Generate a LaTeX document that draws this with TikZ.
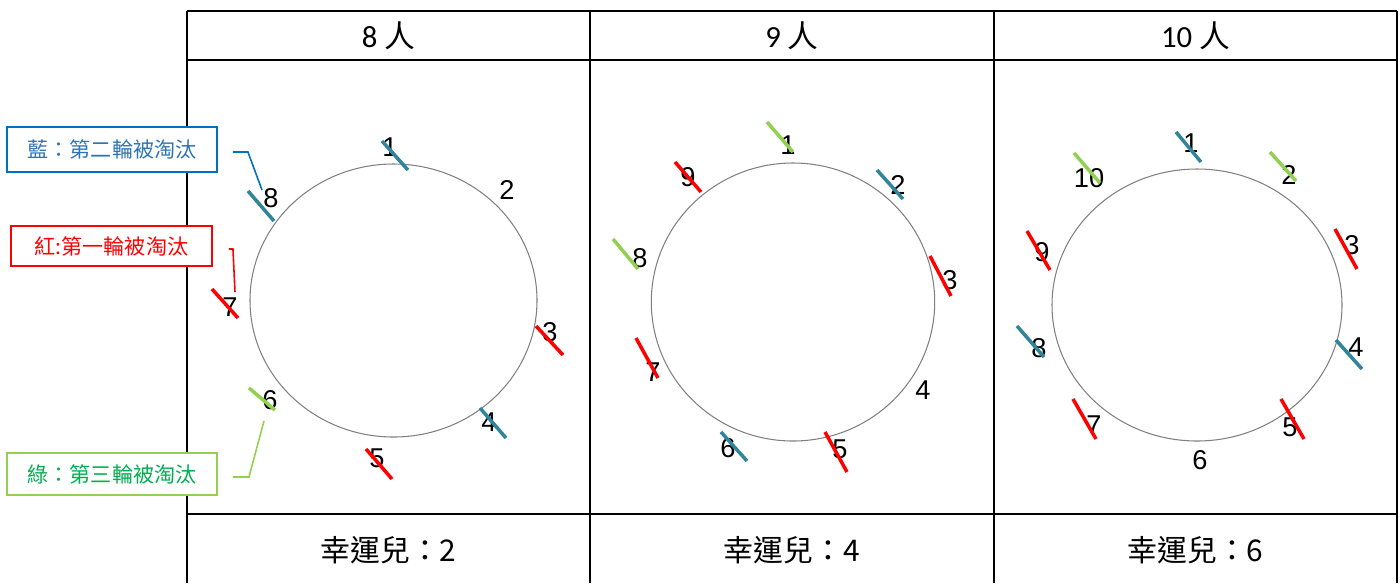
\documentclass[tikz,border=0pt]{standalone}
\usepackage{fontspec}
\setmainfont{Liberation Sans}
\newfontfamily\cjk{Noto Sans CJK TC}
\newfontfamily\calib{Carlito}
\usepackage{xcolor}
\usepackage{tikz}
\usetikzlibrary{calc}

\definecolor{outblue}{RGB}{0,112,192}
\definecolor{outred}{RGB}{255,0,0}
\definecolor{outgreen}{RGB}{146,208,80}
\definecolor{txtblue}{RGB}{46,117,182}
\definecolor{txtgreen}{RGB}{0,176,80}
\definecolor{markteal}{RGB}{49,133,155}

\begin{document}
\begin{tikzpicture}[
    x=0.02cm, y=-0.02cm,
    grid/.style={line width=1.3pt, black},
    ring/.style={draw=gray, line width=0.6pt},
    num/.style={font=\fontsize{15.5}{18}\selectfont, inner sep=0pt},
    cutteal/.style={line width=2pt, markteal},
    cutred/.style={line width=2pt, outred},
    cutgreen/.style={line width=2pt, outgreen},
    head/.style={font=\calib\fontsize{17.5}{20}\selectfont},
    foot/.style={font=\cjk\fontsize{17}{20}\selectfont},
    legend/.style={draw, fill=white, line width=1.1pt, font=\cjk\fontsize{12}{14}\selectfont, minimum width=4.2cm, minimum height=0.9cm, inner sep=0pt},
    lead/.style={line width=0.9pt}
]
    \useasboundingbox (0,0) rectangle (1400,583);

    % Table
    \draw[grid] (187,11) -- (1397,11);
    \draw[grid] (187,60) -- (1397,60);
    \draw[grid] (187,514) -- (1397,514);
    \draw[grid] (187,11) -- (187,583);
    \draw[grid] (590,11) -- (590,583);
    \draw[grid] (994,11) -- (994,583);
    \draw[grid] (1397,11) -- (1397,583);

    % Header row
    \node[head] (h8) at (388.5,36) {8 {\cjk 人}};
    \node[head] (h9) at (792,36) {9 {\cjk 人}};
    \node[head] (h10) at (1195.5,36) {10 {\cjk 人}};

    % Footer row
    \node[foot] (f8) at (388.5,550) {幸運兒：2};
    \node[foot] (f9) at (792,550) {幸運兒：4};
    \node[foot] (f10) at (1195.5,550) {幸運兒：6};

    % 8 people
    \draw[ring] (393.5,300.5) ellipse [x radius=143.5, y radius=136.5];
    \node[num] (a1) at (390,147) {1};
    \node[num] (a2) at (507,190) {2};
    \node[num] (a3) at (550,332) {3};
    \node[num] (a4) at (489,422) {4};
    \node[num] (a5) at (377,458) {5};
    \node[num] (a6) at (270,400) {6};
    \node[num] (a7) at (230,307) {7};
    \node[num] (a8) at (271,198) {8};
    \draw[cutteal] (382,141) -- (408,170);
    \draw[cutred] (536,326) -- (563,355);
    \draw[cutteal] (480,408) -- (506,438);
    \draw[cutred] (366,449) -- (392,479);
    \draw[cutgreen] (249,388) -- (275,410);
    \draw[cutred] (212,289) -- (238,318);
    \draw[cutteal] (248,191) -- (274,221);

    % 9 people
    \draw[ring] (793,302) ellipse [x radius=141.7, y radius=139];
    \node[num] (b1) at (788,145) {1};
    \node[num] (b2) at (898,185) {2};
    \node[num] (b3) at (950,280) {3};
    \node[num] (b4) at (923,390) {4};
    \node[num] (b5) at (840,449) {5};
    \node[num] (b6) at (728,448) {6};
    \node[num] (b7) at (653,372) {7};
    \node[num] (b8) at (640,258) {8};
    \node[num] (b9) at (688,177) {9};
    \draw[cutgreen] (767,122) -- (793,152);
    \draw[cutteal] (877,170) -- (903,199);
    \draw[cutred] (930,256) -- (951,296);
    \draw[cutred] (825,432) -- (847,472);
    \draw[cutteal] (721,432) -- (747,461);
    \draw[cutred] (636,338) -- (658,378);
    \draw[cutgreen] (613,239) -- (638,269);
    \draw[cutred] (675,162) -- (701,192);

    % 10 people
    \draw[ring] (1197,305) ellipse [x radius=145, y radius=136];
    \node[num] (c1) at (1191,143) {1};
    \node[num] (c2) at (1289,175) {2};
    \node[num] (c3) at (1352,245) {3};
    \node[num] (c4) at (1356,347) {4};
    \node[num] (c5) at (1290,427) {5};
    \node[num] (c6) at (1200,460) {6};
    \node[num] (c7) at (1094,425) {7};
    \node[num] (c8) at (1039,348) {8};
    \node[num] (c9) at (1042,252) {9};
    \node[num] (c10) at (1089,178) {10};
    \draw[cutteal] (1176,132) -- (1201,162);
    \draw[cutgreen] (1270,152) -- (1296,181);
    \draw[cutred] (1335,229) -- (1357,269);
    \draw[cutteal] (1336,340) -- (1362,369);
    \draw[cutred] (1281,399) -- (1304,439);
    \draw[cutred] (1073,399) -- (1096,439);
    \draw[cutteal] (1017,326) -- (1044,357);
    \draw[cutred] (1027,231) -- (1050,270);
    \draw[cutgreen] (1074,153) -- (1100,183);

    % Legend
    \node[legend, draw=outblue, text=txtblue] (lgblue) at (112,149.5) {藍：第二輪被淘汰};
    \node[legend, draw=outred, text=outred, minimum width=4.02cm, minimum height=0.8cm] (lgred) at (111.5,246) {紅:第一輪被淘汰};
    \node[legend, draw=outgreen, text=txtgreen, minimum height=0.84cm] (lggreen) at (112,474) {綠：第三輪被淘汰};

    \coordinate (endblue) at (262,190);
    \coordinate (endred) at (235,292);
    \coordinate (endgreen) at (264,421);
    \draw[lead, outblue] ($(lgblue.east)+(15,2.5)$) -- ++(15,0) -- (endblue);
    \draw[lead, outred] ($(lgred.east)+(16,3)$) -- ++(4,0) -- (endred);
    \draw[lead, outgreen] ($(lggreen.east)+(15,3)$) -- ++(16,0) -- (endgreen);

\end{tikzpicture}
\end{document}
